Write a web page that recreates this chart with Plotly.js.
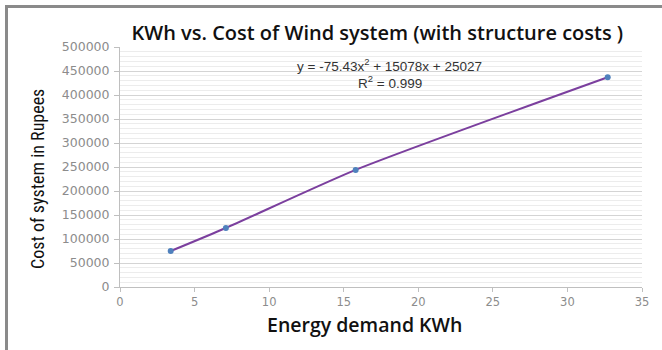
<!DOCTYPE html>
<html>
<head>
<meta charset="utf-8">
<script src="https://cdn.plot.ly/plotly-3.0.1.min.js"></script>
<style>
html,body{margin:0;padding:0;background:#fff;}
#wrap{position:relative;width:662px;height:350px;}
#chart{position:absolute;left:0;top:0;width:662px;height:350px;}
#frame{position:absolute;left:5px;top:5px;width:660px;height:350px;border-top:3px solid #8a8a8a;border-left:3px solid #8a8a8a;pointer-events:none;}
</style>
</head>
<body>
<div id="wrap"><div id="chart"></div><div id="frame"></div></div>
<script>
const energyKWh = [3.4, 7.1, 15.8, 32.7];
const costRupees = [75000, 123000, 244000, 437000];
const xTicks = [0, 5, 10, 15, 20, 25, 30, 35];
const yTicks = [0, 50000, 100000, 150000, 200000, 250000, 300000, 350000, 400000, 450000, 500000];
const titleText = "KWh vs. Cost of Wind system (with structure costs )";
const xTitle = "Energy demand KWh";
const yTitle = "Cost of system in Rupees";
const eqLine1 = "y = -75.43x<sup>2</sup> + 15078x + 25027";
const eqLine2 = "R<sup>2</sup> = 0.999";

const traces = [
  {x: energyKWh, y: costRupees, mode: 'lines', line: {color: '#7b3f9e', width: 2, shape: 'spline', smoothing: 0.6}, hoverinfo: 'skip', showlegend: false},
  {x: energyKWh, y: costRupees, mode: 'markers', marker: {color: '#4f81bd', size: 6}, showlegend: false}
];

const layout = {
  width: 662, height: 350,
  margin: {l: 120, r: 20, t: 47, b: 63},
  paper_bgcolor: '#ffffff', plot_bgcolor: '#ffffff',
  title: {text: titleText, x: 0.57, xanchor: 'center', y: 0.906, yanchor: 'middle',
          font: {family: 'Open Sans, sans-serif', size: 20, weight: 600, color: '#111'}},
  xaxis: {
    range: [0, 35], tickvals: xTicks, ticktext: xTicks.map(String),
    showgrid: false, zeroline: false, showline: true, linecolor: '#bfbfbf', linewidth: 1,
    ticks: 'outside', ticklen: 4, tickcolor: '#bfbfbf',
    tickfont: {family: 'DejaVu Sans, sans-serif', size: 11.5, color: '#8c8c8c'}
  },
  yaxis: {
    range: [0, 500000], tickvals: yTicks, ticktext: yTicks.map(String),
    showgrid: true, gridcolor: '#d4d4d4', gridwidth: 1,
    minor: {dtick: 10000, showgrid: true, gridcolor: '#ececec', gridwidth: 1},
    zeroline: false, showline: true, linecolor: '#bfbfbf', linewidth: 1,
    ticks: 'outside', ticklen: 5, tickcolor: '#bfbfbf',
    ticklabelstandoff: 2,
    tickfont: {family: 'DejaVu Sans, sans-serif', size: 12.5, color: '#8c8c8c'}
  },
  annotations: [
    {xref: 'paper', yref: 'paper', x: 0.469, y: -0.158, xanchor: 'center', yanchor: 'middle', showarrow: false,
     text: xTitle, font: {family: 'Open Sans, sans-serif', size: 19.5, weight: 600, color: '#111'}},
    {xref: 'paper', yref: 'paper', x: -0.159, y: 0.45, xanchor: 'center', yanchor: 'middle', showarrow: false,
     textangle: -90, text: yTitle,
     font: {family: 'Liberation Sans Narrow, Roboto Condensed, Liberation Sans, sans-serif', size: 18, color: '#111'}},
    {xref: 'paper', yref: 'paper', x: 0.517, y: 0.925, xanchor: 'center', yanchor: 'middle', showarrow: false,
     text: eqLine1, font: {family: 'Liberation Sans, Arial, sans-serif', size: 13.5, color: '#333'}},
    {xref: 'paper', yref: 'paper', x: 0.517, y: 0.854, xanchor: 'center', yanchor: 'middle', showarrow: false,
     text: eqLine2, font: {family: 'Liberation Sans, Arial, sans-serif', size: 13.5, color: '#333'}}
  ]
};

Plotly.newPlot('chart', traces, layout, {displayModeBar: false, staticPlot: true});
</script>
</body>
</html>
